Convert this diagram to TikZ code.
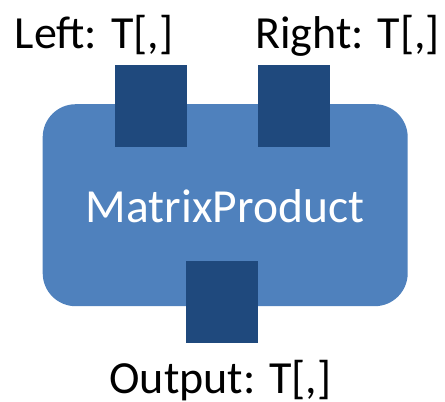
\documentclass[tikz,border=0pt]{standalone}
\usepackage{fontspec}
\setmainfont{Carlito}
\definecolor{mainblue}{HTML}{4F81BD}
\definecolor{portblue}{HTML}{1F497D}
\begin{document}
\begin{tikzpicture}[x=1pt,y=-1pt,
  port/.style={fill=portblue,draw=none,minimum width=72pt,minimum height=82pt,inner sep=0pt,anchor=north west},
  lbl/.style={font=\fontsize{46}{46}\selectfont,inner sep=0pt,anchor=base west}]
\useasboundingbox (0,0) rectangle (445,402);
\node[fill=mainblue,draw=none,rounded corners=33pt,minimum width=365pt,minimum height=202pt,inner sep=0pt,anchor=north west] (main) at (42.5,104) {};
\node[text=white,font=\fontsize{47.5}{47.5}\selectfont,inner sep=0pt,anchor=base] (title) at (225,222) {MatrixProduct};
\node[port] (left) at (115,65) {};
\node[port] (right) at (258,65) {};
\node[port] (out) at (186,260.5) {};
\node[lbl] (leftl) at (14.5,48) {Left: T[,]};
\node[lbl] (rightl) at (255,48) {Right: T[,]};
\node[lbl,anchor=base] (outl) at (220.5,393) {Output: T[,]};
\end{tikzpicture}
\end{document}
